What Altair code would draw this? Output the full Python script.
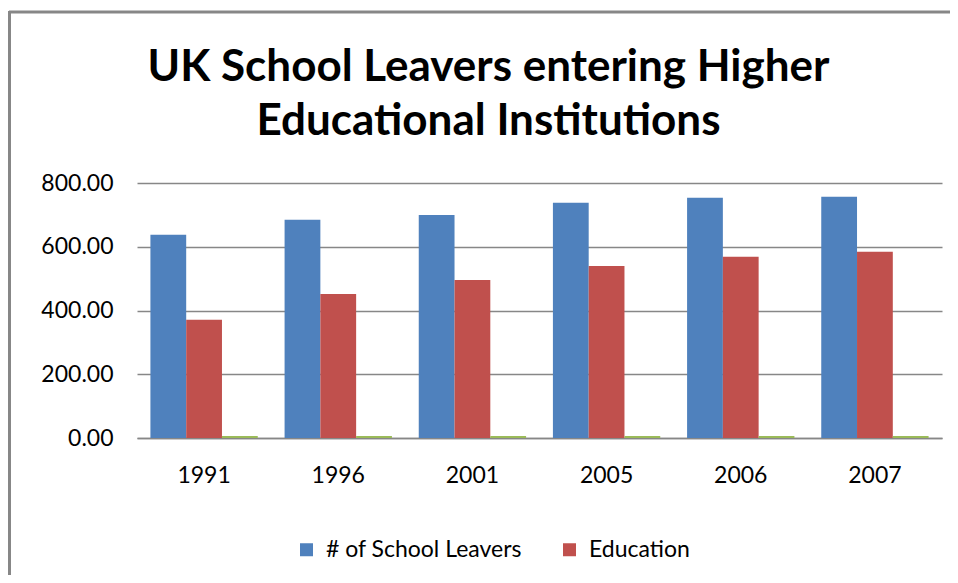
import altair as alt
import pandas as pd

years = ["1991", "1996", "2001", "2005", "2006", "2007"]
leavers = [638, 685, 700, 738, 754, 757]
education = [371, 452, 496, 540, 569, 584]
series3 = [6, 6, 6, 6, 6, 6]

s_names = ["# of School Leavers", "Education", "Series3"]
s_colors = ["#4F81BD", "#C0504D", "#9BBB59"]

rows = []
for i, y in enumerate(years):
    rows.append({"Year": y, "Series": s_names[0], "Value": leavers[i]})
    rows.append({"Year": y, "Series": s_names[1], "Value": education[i]})
    rows.append({"Year": y, "Series": s_names[2], "Value": series3[i]})
df = pd.DataFrame(rows)

FONT = "Lato"
GRID = "#878787"

bars = alt.Chart(df).mark_bar().encode(
    x=alt.X("Year:N", sort=years, title=None,
            scale=alt.Scale(paddingInner=0.2, paddingOuter=0.1),
            axis=alt.Axis(labelAngle=0, labelFont=FONT, labelFontSize=23,
                          labelColor="#000000", labelPadding=26, ticks=False,
                          domainColor=GRID, domainWidth=1.5, grid=False)),
    xOffset=alt.XOffset("Series:N", sort=s_names),
    y=alt.Y("Value:Q", title=None,
            scale=alt.Scale(domain=[0, 800], nice=False),
            axis=alt.Axis(values=[0, 200, 400, 600, 800], format=".2f",
                          labelFont=FONT, labelFontSize=23, labelColor="#000000",
                          labelPadding=24, ticks=False, domain=False,
                          gridColor=GRID, gridWidth=1.3)),
    color=alt.Color("Series:N", sort=s_names,
                    scale=alt.Scale(domain=s_names, range=s_colors),
                    legend=alt.Legend(values=s_names[:2], orient="none",
                                      legendX=158, legendY=355,
                                      direction="horizontal", title=None,
                                      symbolType="square", symbolSize=169,
                                      symbolStrokeWidth=0, symbolOpacity=1,
                                      labelFont=FONT, labelFontSize=23,
                                      labelColor="#000000", labelOffset=8,
                                      labelLimit=0, columnPadding=36)),
)

frame_df = pd.DataFrame({"a": [0]})
frame_top = alt.Chart(frame_df).mark_rule(color=GRID, strokeWidth=3).encode(
    x=alt.value(-128), x2=alt.value(830), y=alt.value(-171))
frame_left = alt.Chart(frame_df).mark_rule(color=GRID, strokeWidth=3).encode(
    x=alt.value(-127.5), y=alt.value(-172), y2=alt.value(410))

chart = alt.layer(bars, frame_top, frame_left).properties(
    width=805, height=255,
    padding={"left": 129, "top": 175, "right": 8, "bottom": 137},
    autosize=alt.AutoSizeParams(type="none"),
    view=alt.ViewBackground(strokeWidth=0, strokeOpacity=0),
    title=alt.TitleParams(
        ["UK School Leavers entering Higher", "Educational Institutions"],
        font=FONT, fontSize=44, fontWeight="bold", color="#000000",
        anchor="middle", frame="group", dx=-51, offset=-134, lineHeight=54),
).configure_view(strokeWidth=0, strokeOpacity=0).configure(background="white")

chart.save("out.html", embed_options={"renderer": "svg", "actions": False})
